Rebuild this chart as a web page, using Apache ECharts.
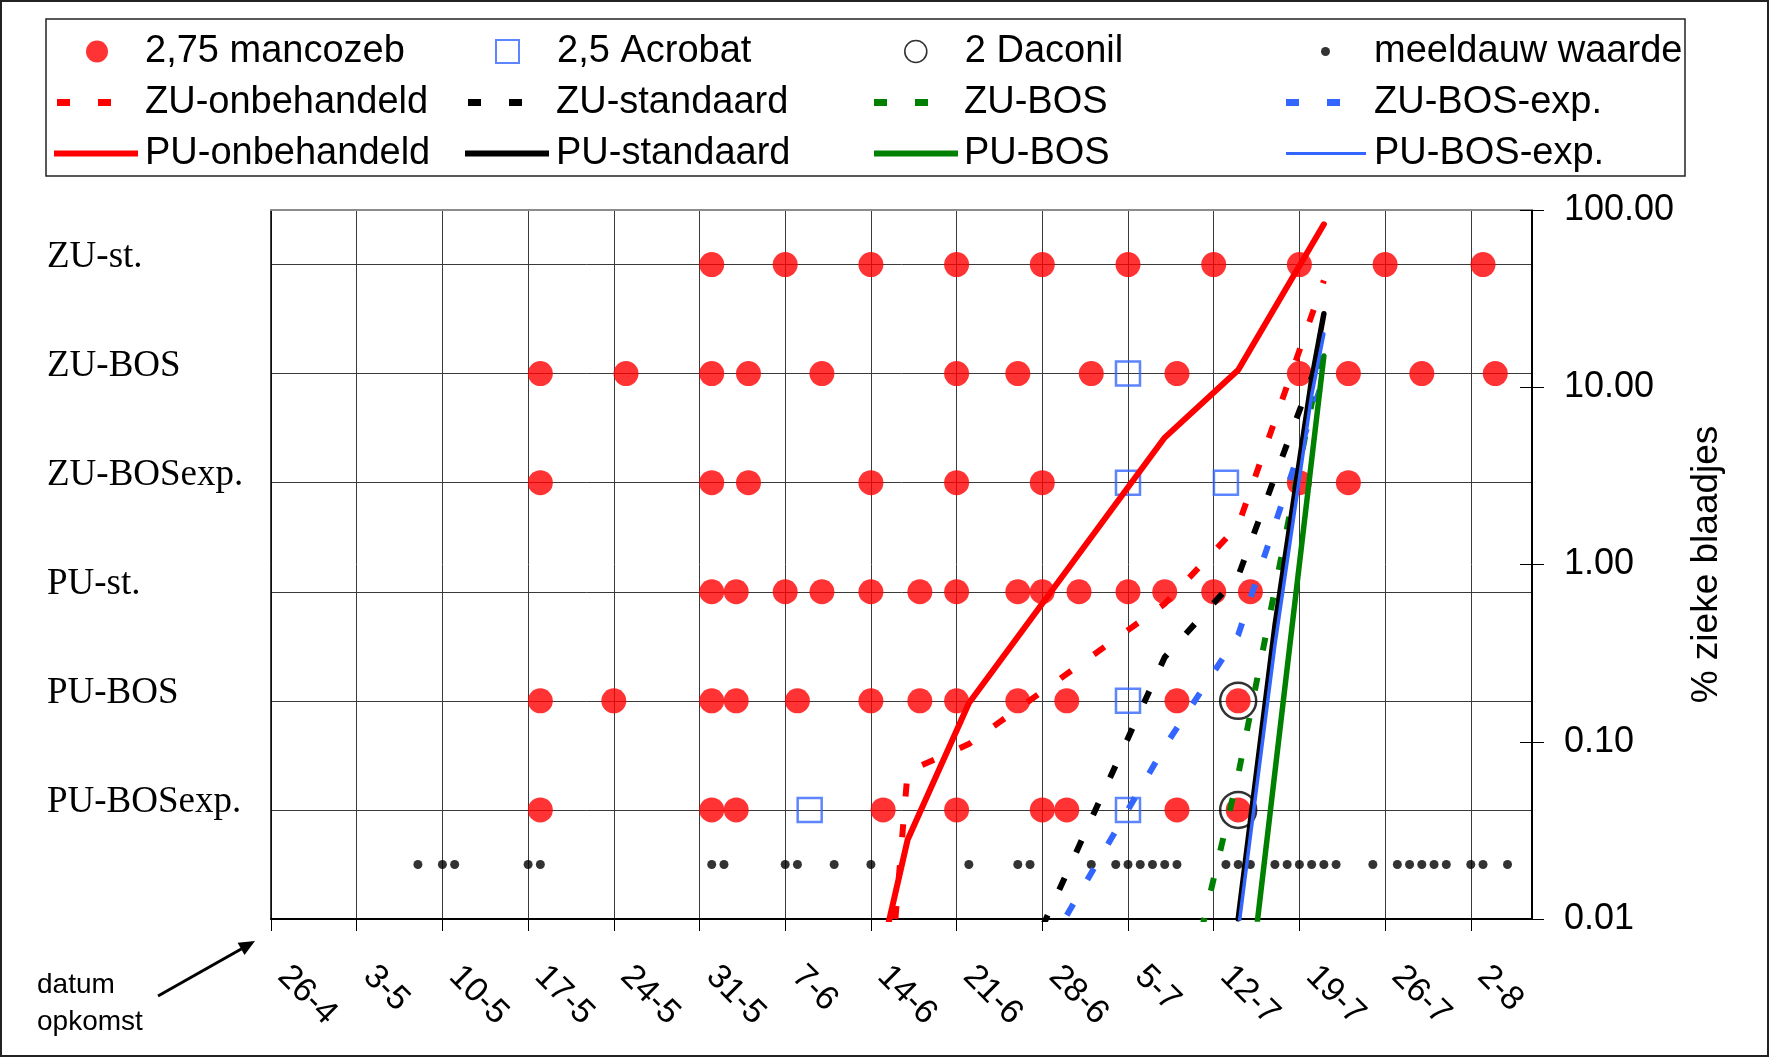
<!DOCTYPE html>
<html>
<head>
<meta charset="utf-8">
<script src="https://cdn.jsdelivr.net/npm/echarts@6/dist/echarts.min.js"></script>
<style>
  html, body { margin: 0; padding: 0; background: #ffffff; }
  #chart { width: 1769px; height: 1057px; }
</style>
</head>
<body>
<div id="chart"></div>
<script>
// ---- week ticks along the date axis (days counted from 26-4) ----
const weekLabels = ['26-4', '3-5', '10-5', '17-5', '24-5', '31-5', '7-6', '14-6', '21-6', '28-6', '5-7', '12-7', '19-7', '26-7', '2-8'];
const weekDays = weekLabels.map((_, i) => i * 7);

// treatment rows, bottom (1) to top (6)
const rowLabels = ['PU-BOSexp.', 'PU-BOS', 'PU-st.', 'ZU-BOSexp.', 'ZU-BOS', 'ZU-st.'];

// spray days per row: 2,75 mancozeb
const mancozebZUst = [36, 42, 49, 56, 63, 70, 77, 84, 91, 99];
const mancozebZUbos = [22, 29, 36, 39, 45, 56, 61, 67, 74, 84, 88, 94, 100];
const mancozebZUbosExp = [22, 36, 39, 49, 56, 63, 84, 88];
const mancozebPUst = [36, 38, 42, 45, 49, 53, 56, 61, 63, 66, 70, 73, 77, 80];
const mancozebPUbos = [22, 28, 36, 38, 43, 49, 53, 56, 61, 65, 74, 79];
const mancozebPUbosExp = [22, 36, 38, 50, 56, 63, 65, 74, 79];

// spray days per row: 2,5 Acrobat
const acrobatZUbos = [70];
const acrobatZUbosExp = [70, 78];
const acrobatPUbos = [70];
const acrobatPUbosExp = [44, 70];

// spray days per row: 2 Daconil
const daconilPUbos = [79];
const daconilPUbosExp = [79];

// days with a mildew warning (meeldauw waarde), drawn on the half row
const meeldauwDays = [12, 14, 15, 21, 22, 36, 37, 42, 43, 46, 49, 57, 61, 62, 67, 69, 70, 71, 72, 73, 74,
  78, 79, 80, 82, 83, 84, 85, 86, 87, 90, 92, 93, 94, 95, 96, 98, 99, 101];
const meeldauwRow = 0.5;

// disease progress, [day, % zieke blaadjes]
const zuOnbehandeld = [[51, 0.01], [52, 0.068], [57, 0.097], [73, 0.60], [79, 1.66], [86, 40]];
const zuStandaard = [[63, 0.009], [73, 0.30], [79, 0.86], [86, 17.4]];
const zuBos = [[76, 0.0086], [79, 0.065], [86, 18]];
const zuBosExp = [[65, 0.0105], [73, 0.094], [79, 0.40], [86, 11.4]];
const puOnbehandeld = [[50, 0.007], [52, 0.028], [57, 0.165], [73, 5.2], [79, 12.5], [86, 83]];
const puStandaard = [[79, 0.01], [82, 0.45], [85, 11.0], [86, 26]];
const puBos = [[80, 0.0045], [86, 15]];
const puBosExp = [[79, 0.0085], [82, 0.35], [85, 9.0], [86, 20]];

const SANS = '"Liberation Sans", Arial, Helvetica, sans-serif';
const SERIF = '"Liberation Serif", "Times New Roman", Times, serif';
const RED = '#ff0000';
const BLUE = '#3366ff';
const GREEN = '#008000';
const BLACK = '#000000';
const DASH = [13, 28];
const DASH_ICON = 'path://M0,0H13V7H0Z M41,0H54V7H41Z';

const GRID_BOX = { left: 271, right: 237, top: 210, bottom: 138, containLabel: false, outerBoundsMode: 'none' };

function rowPoints(days, row) {
  return days.map(d => [d, row]);
}

const mancozebData = [].concat(
  rowPoints(mancozebZUst, 6), rowPoints(mancozebZUbos, 5), rowPoints(mancozebZUbosExp, 4),
  rowPoints(mancozebPUst, 3), rowPoints(mancozebPUbos, 2), rowPoints(mancozebPUbosExp, 1));
const acrobatData = [].concat(
  rowPoints(acrobatZUbos, 5), rowPoints(acrobatZUbosExp, 4),
  rowPoints(acrobatPUbos, 2), rowPoints(acrobatPUbosExp, 1));
const daconilData = [].concat(rowPoints(daconilPUbos, 2), rowPoints(daconilPUbosExp, 1));
const meeldauwData = rowPoints(meeldauwDays, meeldauwRow);

function curve(name, data, color, width, dashed) {
  return {
    name, type: 'line', xAxisIndex: 0, yAxisIndex: 0, data,
    symbol: 'none', showSymbol: false, silent: true, z: 5,
    lineStyle: { color, width, type: dashed ? DASH : 'solid', cap: dashed ? 'butt' : 'round', join: 'round' },
    itemStyle: { color }
  };
}

// one legend block per entry so the four columns line up exactly
function legendEntry(name, iconLeft, centerY, w, h, textLeft, icon, itemStyle) {
  return {
    show: true, selectedMode: false, orient: 'horizontal',
    left: iconLeft, top: centerY - 20, padding: 0,
    itemWidth: w, itemHeight: h, itemGap: 0, symbolKeepAspect: false,
    textStyle: {
      fontFamily: SANS, fontSize: 38, color: BLACK, lineHeight: 40,
      padding: [0, 0, 0, Math.max(0, textLeft - (iconLeft + w + 5))]
    },
    data: [{ name, icon, itemStyle }]
  };
}

const legendRow1 = 51.5, legendRow2 = 102.5, legendRow3 = 153.5;
const textCols = [145, 556, 964, 1374];

const legends = [
  legendEntry('2,75 mancozeb', 86, legendRow1, 22, 22, textCols[0], 'circle', { color: RED, borderWidth: 0 }),
  legendEntry('2,5 Acrobat', 495, legendRow1, 23, 23, textCols[1], 'rect', { color: 'rgba(0,0,0,0)', borderColor: BLUE, borderWidth: 2 }),
  legendEntry('2 Daconil', 904, legendRow1, 22, 22, textCols[2], 'circle', { color: 'rgba(0,0,0,0)', borderColor: BLACK, borderWidth: 1.6 }),
  legendEntry('meeldauw waarde', 1321, legendRow1, 9, 9, textCols[3], 'circle', { color: BLACK, borderWidth: 0 }),
  legendEntry('ZU-onbehandeld', 57, legendRow2, 54, 7, textCols[0], DASH_ICON, { color: RED, borderWidth: 0 }),
  legendEntry('ZU-standaard', 468, legendRow2, 54, 7, textCols[1], DASH_ICON, { color: BLACK, borderWidth: 0 }),
  legendEntry('ZU-BOS', 874, legendRow2, 54, 7, textCols[2], DASH_ICON, { color: GREEN, borderWidth: 0 }),
  legendEntry('ZU-BOS-exp.', 1286, legendRow2, 54, 7, textCols[3], DASH_ICON, { color: BLUE, borderWidth: 0 }),
  legendEntry('PU-onbehandeld', 54, legendRow3, 84, 6, textCols[0], 'rect', { color: RED, borderWidth: 0 }),
  legendEntry('PU-standaard', 465, legendRow3, 84, 6, textCols[1], 'rect', { color: BLACK, borderWidth: 0 }),
  legendEntry('PU-BOS', 874, legendRow3, 84, 6, textCols[2], 'rect', { color: GREEN, borderWidth: 0 }),
  legendEntry('PU-BOS-exp.', 1286, legendRow3, 80, 3, textCols[3], 'rect', { color: BLUE, borderWidth: 0 })
];

const chart = echarts.init(document.getElementById('chart'), null, { renderer: 'canvas' });

chart.setOption({
  animation: false,
  backgroundColor: '#ffffff',
  textStyle: { fontFamily: SANS },
  // grid 0 holds the data; grid 1 sits on top of it and only carries the frame extras
  grid: [Object.assign({}, GRID_BOX), Object.assign({}, GRID_BOX)],
  legend: legends,
  tooltip: { show: false },
  xAxis: [{
    gridIndex: 0, type: 'value', min: 0, max: 103, interval: 7,
    axisLine: { show: true, onZero: false, lineStyle: { color: BLACK, width: 2 } },
    axisTick: { show: true, inside: false, length: 12, lineStyle: { color: BLACK, width: 1 }, customValues: weekDays },
    axisLabel: {
      show: true, rotate: -45, margin: 40, fontFamily: SANS, fontSize: 34, color: BLACK,
      padding: [0, 0, 0, 17],
      customValues: weekDays,
      formatter: v => { const i = Math.round(v / 7); return (Math.abs(v - i * 7) < 1e-6 && weekLabels[i]) ? weekLabels[i] : ''; }
    },
    splitLine: { show: true, lineStyle: { color: '#3a3a3a', width: 1 } }
  }, {
    // top edge of the plot frame
    gridIndex: 1, type: 'value', min: 0, max: 1, position: 'top',
    axisLine: { show: true, onZero: false, lineStyle: { color: '#8c8c8c', width: 2 } },
    axisTick: { show: false }, axisLabel: { show: false }, splitLine: { show: false }
  }],
  yAxis: [{
    // percentage of diseased leaves, log scale on the right
    gridIndex: 0, type: 'log', logBase: 10, min: 0.01, max: 100, position: 'right',
    axisLine: { show: true, onZero: false, lineStyle: { color: BLACK, width: 2 } },
    axisTick: { show: true, inside: false, length: 12, lineStyle: { color: BLACK, width: 1 } },
    axisLabel: { margin: 32, fontFamily: SANS, fontSize: 36, color: BLACK, formatter: v => Number(v).toFixed(2) },
    splitLine: { show: false },
    name: '% zieke blaadjes', nameLocation: 'middle', nameRotate: 90, nameGap: 156,
    nameTextStyle: { fontFamily: SANS, fontSize: 37, color: BLACK }
  }, {
    // treatment rows on the left
    gridIndex: 0, type: 'value', min: 0, max: 6.5, interval: 1, position: 'left',
    axisLine: { show: true, onZero: false, lineStyle: { color: BLACK, width: 1.5 } },
    axisTick: { show: false },
    axisLabel: {
      align: 'left', margin: 224, fontFamily: SERIF, fontSize: 37, color: BLACK,
      verticalAlign: 'bottom', lineHeight: 15,
      formatter: v => { const i = Math.round(v); return (Math.abs(v - i) < 1e-6 && rowLabels[i - 1]) ? rowLabels[i - 1] : ''; }
    },
    splitLine: { show: true, lineStyle: { color: '#3a3a3a', width: 1 } }
  }, {
    // inner half of the crossing ticks on the log axis
    gridIndex: 1, type: 'log', logBase: 10, min: 0.01, max: 100, position: 'right',
    axisLine: { show: false, onZero: false },
    axisTick: { show: true, inside: true, length: 12, lineStyle: { color: BLACK, width: 1 } },
    axisLabel: { show: false },
    splitLine: { show: false }
  }],
  series: [
    {
      name: '2 Daconil', type: 'scatter', xAxisIndex: 0, yAxisIndex: 1, data: daconilData,
      symbol: 'circle', symbolSize: 36, silent: true, z: 2,
      itemStyle: { color: 'rgba(0,0,0,0)', borderColor: BLACK, borderWidth: 2.5 }
    },
    {
      name: '2,75 mancozeb', type: 'scatter', xAxisIndex: 0, yAxisIndex: 1, data: mancozebData,
      symbol: 'circle', symbolSize: 25, silent: true, z: 3,
      itemStyle: { color: RED }
    },
    {
      name: '2,5 Acrobat', type: 'scatter', xAxisIndex: 0, yAxisIndex: 1, data: acrobatData,
      symbol: 'rect', symbolSize: 24, silent: true, z: 3,
      itemStyle: { color: 'rgba(0,0,0,0)', borderColor: BLUE, borderWidth: 2.5 }
    },
    {
      name: 'meeldauw waarde', type: 'scatter', xAxisIndex: 0, yAxisIndex: 1, data: meeldauwData,
      symbol: 'circle', symbolSize: 9, silent: true, z: 3,
      itemStyle: { color: BLACK }
    },
    curve('ZU-onbehandeld', zuOnbehandeld, RED, 6, true),
    curve('ZU-standaard', zuStandaard, BLACK, 6, true),
    curve('ZU-BOS', zuBos, GREEN, 6, true),
    curve('ZU-BOS-exp.', zuBosExp, BLUE, 6, true),
    curve('PU-onbehandeld', puOnbehandeld, RED, 6, false),
    curve('PU-standaard', puStandaard, BLACK, 5.5, false),
    curve('PU-BOS', puBos, GREEN, 5.5, false),
    curve('PU-BOS-exp.', puBosExp, BLUE, 3.5, false)
  ],
  graphic: [
    { type: 'rect', silent: true, z: -1, shape: { x: 1, y: 1, width: 1767, height: 1055 },
      style: { fill: 'none', stroke: '#222222', lineWidth: 2 } },
    { type: 'rect', silent: true, z: -1, shape: { x: 46, y: 19, width: 1639, height: 157 },
      style: { fill: 'none', stroke: '#222222', lineWidth: 1.5 } },
    { type: 'text', silent: true, left: 37, top: 967,
      style: { text: 'datum\nopkomst', font: '28px ' + SANS, fill: BLACK, lineHeight: 37 } },
    { type: 'polyline', silent: true, shape: { points: [[158, 996], [243, 948]] },
      style: { stroke: BLACK, lineWidth: 3, fill: 'none' } },
    { type: 'polygon', silent: true, shape: { points: [[255, 941], [244.5, 955], [237.6, 942.8]] },
      style: { fill: BLACK } }
  ]
});
</script>
</body>
</html>
